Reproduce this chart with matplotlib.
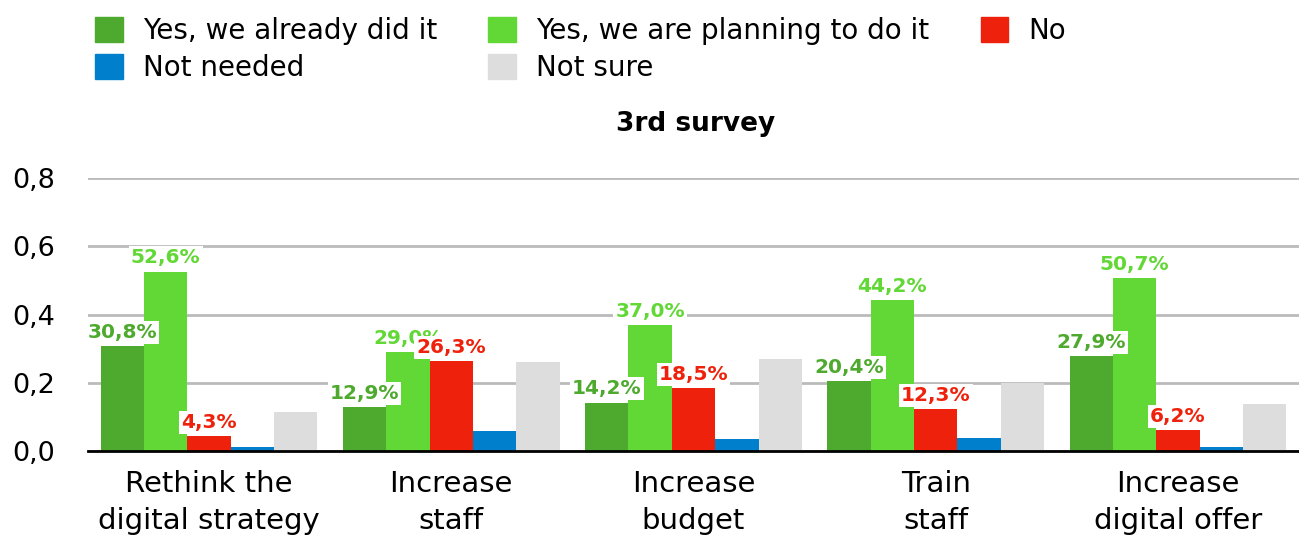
import numpy as np
import matplotlib.pyplot as plt
from matplotlib.patches import Patch

plt.rcParams['font.family'] = ['DejaVu Sans']

categories = ["Rethink the\ndigital strategy", "Increase\nstaff", "Increase\nbudget", "Train\nstaff", "Increase\ndigital offer"]
series_names = ["Yes, we already did it", "Yes, we are planning to do it", "No", "Not needed", "Not sure"]
already = [0.308, 0.129, 0.142, 0.204, 0.279]
planning = [0.526, 0.290, 0.370, 0.442, 0.507]
no = [0.043, 0.263, 0.185, 0.123, 0.062]
not_needed = [0.012, 0.059, 0.035, 0.038, 0.012]
not_sure = [0.114, 0.260, 0.270, 0.200, 0.138]

colors = ["#4EAA2E", "#62D836", "#EE220C", "#0080CC", "#DDDDDD"]
all_series = [already, planning, no, not_needed, not_sure]
labelled = [True, True, True, False, False]

fig = plt.figure(figsize=(12.99, 5.38), dpi=100)
ax = fig.add_axes([88/1299, 1-451/538, 1211/1299, 273/538])

x = np.arange(len(categories))
w = 0.179
for i, vals in enumerate(all_series):
    pos = x + (i - 2) * w
    bars = ax.bar(pos, vals, width=w, color=colors[i], zorder=2)
    # only the first three series get % labels
    if labelled[i]:
        for b, v in zip(bars, vals):
            txt = f"{v*100:.1f}%".replace(".", ",")
            ax.annotate(txt, (b.get_x() + b.get_width()/2, v), xytext=(0, 3),
                        textcoords="offset points", ha="center", va="bottom",
                        fontsize=14.5, fontweight="bold", color=colors[i], zorder=3,
                        bbox=dict(boxstyle="square,pad=0.1", fc="white", ec="none"))

ax.set_xlim(-0.5, 4.5)
ax.set_ylim(0, 0.8)
ax.set_yticks([0, 0.2, 0.4, 0.6, 0.8])
ax.set_yticklabels(["0,0", "0,2", "0,4", "0,6", "0,8"], fontsize=19.5)
ax.set_xticks(x)
ax.set_xticklabels(categories, fontsize=21, linespacing=1.4)
ax.tick_params(length=0)
ax.tick_params(axis='x', pad=14)
ax.tick_params(axis='y', pad=24)
ax.grid(axis='y', color="#BBBBBB", linewidth=2, zorder=0)
for s in ["top", "right", "left"]:
    ax.spines[s].set_visible(False)
ax.spines["bottom"].set_linewidth(2)
ax.spines["bottom"].set_color("black")
ax.spines["bottom"].set_zorder(4)

fig.text(696/1299, 1-124/538, "3rd survey", ha="center", va="center", fontsize=19, fontweight="bold")

handles = [Patch(color=c) for c in colors]
order = [0, 3, 1, 4, 2]
fig.legend([handles[i] for i in order], [series_names[i] for i in order], ncol=3,
           loc="upper left", bbox_to_anchor=(95/1299, 1-17/538), frameon=False, fontsize=20,
           borderpad=0, borderaxespad=0,
           handlelength=1.0, handleheight=1.0, columnspacing=1.85, labelspacing=0.33,
           handletextpad=0.72)

fig.savefig("out.png", dpi=100)
